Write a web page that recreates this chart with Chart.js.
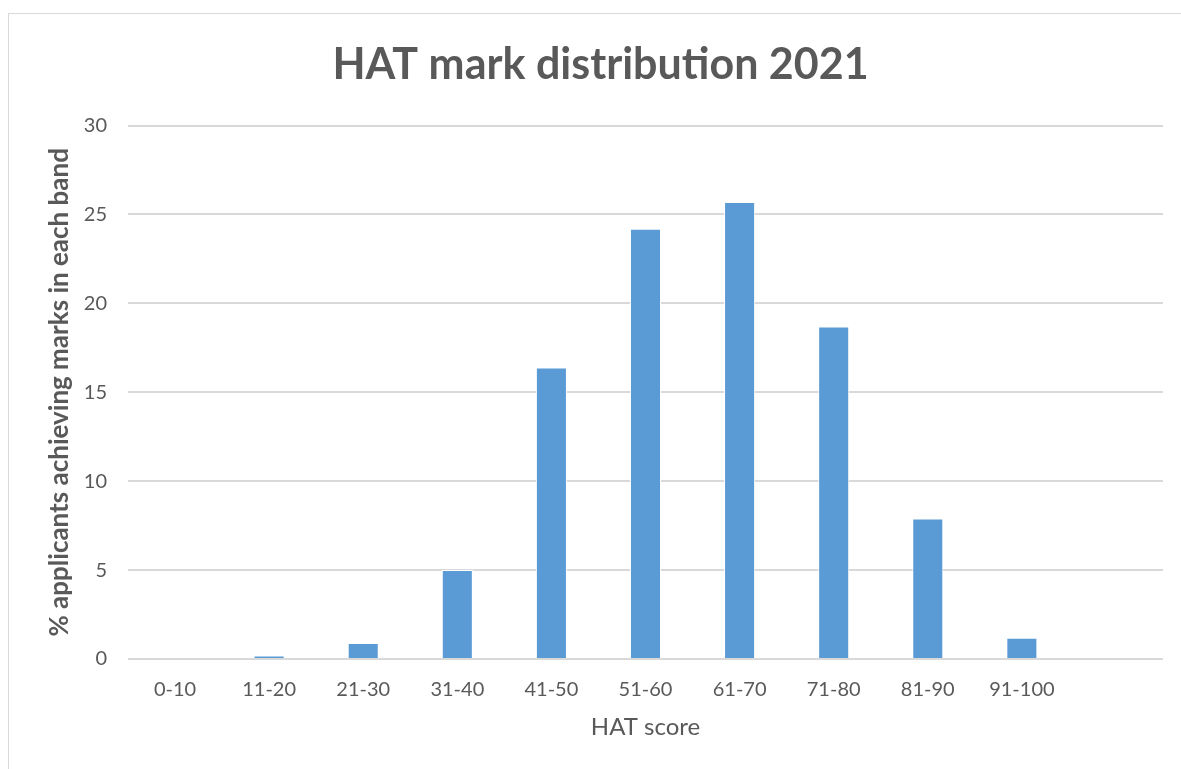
<!DOCTYPE html>
<html>
<head>
<meta charset="utf-8">
<script src="https://cdn.jsdelivr.net/npm/chart.js@4.4.0/dist/chart.umd.min.js"></script>
<style>
    html, body { margin: 0; padding: 0; background: #fff; }
    #frame {
        position: absolute; left: 8px; top: 13px; width: 1200px; height: 800px;
        border-left: 1px solid #d9d9d9; border-top: 1px solid #d9d9d9;
    }
    #wrap { position: absolute; left: 0; top: 0; width: 1181px; height: 769px; }
</style>
</head>
<body>
<div id="frame"></div>
<div id="wrap"><canvas id="markChart" width="1181" height="769"></canvas></div>
<script>
const bands = ['0-10', '11-20', '21-30', '31-40', '41-50', '51-60', '61-70', '71-80', '81-90', '91-100', ''];
const percentApplicants = [0, 0.2, 0.9, 5.0, 16.4, 24.2, 25.7, 18.7, 7.9, 1.2, null];
const yTicks = [0, 5, 10, 15, 20, 25, 30];

const textGrey = '#595959';
const gridGrey = '#d9d9d9';
const fontName = 'Lato, "Open Sans", sans-serif';

const ctx = document.getElementById('markChart').getContext('2d');
window.markChart = new Chart(ctx, {
    type: 'bar',
    data: {
        labels: bands,
        datasets: [{
            label: 'HAT mark distribution 2021',
            data: percentApplicants,
            backgroundColor: '#5b9bd5',
            borderColor: '#ffffff',
            borderWidth: 1,
            barPercentage: 1,
            categoryPercentage: 0.33
        }]
    },
    options: {
        responsive: false,
        animation: false,
        layout: {
            padding: { left: 38, right: 18, top: 0, bottom: 27 }
        },
        plugins: {
            legend: { display: false },
            tooltip: { enabled: false },
            title: {
                display: true,
                text: 'HAT mark distribution 2021',
                color: textGrey,
                font: { family: fontName, size: 43, weight: 'bold' },
                padding: { top: 39, bottom: 35 }
            }
        },
        scales: {
            x: {
                afterFit: axis => {
                    axis.height = 83;
                },
                grid: { display: false, drawTicks: false },
                border: { display: false },
                ticks: {
                    color: textGrey,
                    font: { family: fontName, size: 20 },
                    padding: 19,
                    maxRotation: 0,
                    autoSkip: false
                },
                title: {
                    display: true,
                    text: 'HAT score',
                    color: textGrey,
                    font: { family: fontName, size: 24 },
                    padding: { top: 12, bottom: 0 }
                }
            },
            y: {
                min: 0,
                max: 30,
                afterBuildTicks: axis => {
                    axis.ticks = yTicks.map(v => ({ value: v }));
                },
                afterFit: axis => {
                    axis.width = 90;
                },
                grid: { color: gridGrey, lineWidth: 2, drawTicks: false },
                border: { display: false },
                ticks: {
                    color: textGrey,
                    font: { family: fontName, size: 20 },
                    padding: 21
                },
                title: {
                    display: true,
                    text: '% applicants achieving marks in each band',
                    color: textGrey,
                    font: { family: fontName, size: 26, weight: 'bold' },
                    padding: { top: 6, bottom: 0 }
                }
            }
        }
    }
});
</script>
</body>
</html>
